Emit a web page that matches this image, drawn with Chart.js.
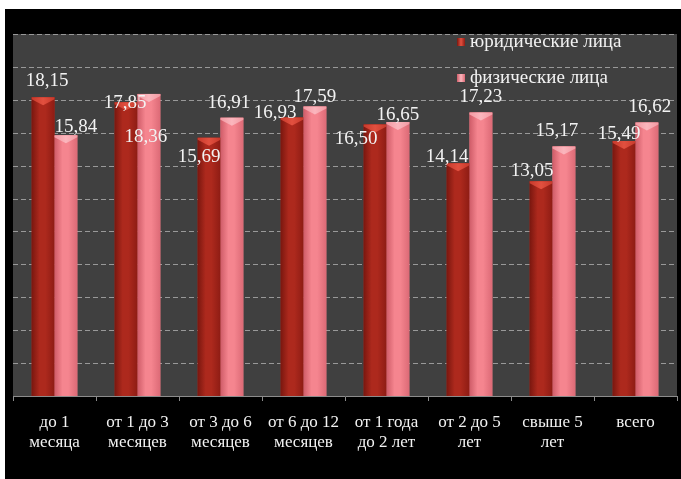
<!DOCTYPE html>
<html>
<head>
<meta charset="utf-8">
<script src="https://cdn.jsdelivr.net/npm/chart.js@4.4.1/dist/chart.umd.min.js"></script>
<style>
  html, body { margin: 0; padding: 0; background: #fff; }
  #wrap { width: 681px; height: 479px; }
</style>
</head>
<body>
<div id="wrap"><canvas id="chart" width="681" height="479"></canvas></div>
<script>
const categories = [
  ["до 1", "месяца"],
  ["от 1 до 3", "месяцев"],
  ["от 3 до 6", "месяцев"],
  ["от 6 до 12", "месяцев"],
  ["от 1 года", "до 2 лет"],
  ["от 2 до 5", "лет"],
  ["свыше 5", "лет"],
  ["всего"]
];
const seriesNames = ["юридические лица", "физические лица"];
const legalValues = [18.15, 17.85, 15.69, 16.93, 16.50, 14.14, 13.05, 15.49];
const personValues = [15.84, 18.36, 16.91, 17.59, 16.65, 17.23, 15.17, 16.62];
const yMin = 0;
const yMax = 22;
const yStep = 2;

// where each value label sits, relative to the top centre of its bar
const legalLabelShift = [[4, -16], [-1, 1], [-10, 19], [-17, -4], [-19, 15], [-11, -6], [-9, -10], [-5, -7]];
const personLabelShift = [[10, -8], [-3, 43], [-3, -15], [0, -10], [0, -7], [0, -15], [-7, -15], [3, -16]];

const SERIF = "'Liberation Serif', 'Times New Roman', serif";

const shades = [
  { edge: "#7a170f", mid: "#ad291d", right: "#8e1c14", cap: "#e2503f", capEdge: "#c73a2c" },
  { edge: "#cf5c68", mid: "#f5858f", right: "#dc6a76", cap: "#fbb6bd", capEdge: "#f29aa3" }
];

function fmt(v) {
  return v.toFixed(2).replace(".", ",");
}

const backdrop = {
  id: "backdrop",
  beforeDraw(chart) {
    const ctx = chart.ctx;
    const a = chart.chartArea;
    ctx.save();
    ctx.fillStyle = "#ffffff";
    ctx.fillRect(0, 0, chart.width, chart.height);
    ctx.fillStyle = "#000000";
    ctx.fillRect(5, 9, chart.width - 5, chart.height - 9);
    ctx.fillStyle = "#404040";
    ctx.fillRect(a.left, a.top, a.right - a.left, a.bottom - a.top);
    ctx.restore();
  },
  beforeDatasetsDraw(chart) {
    // dashed horizontal grid, taken from the y scale ticks
    const ctx = chart.ctx;
    const a = chart.chartArea;
    const y = chart.scales.y;
    ctx.save();
    ctx.strokeStyle = "#999999";
    ctx.lineWidth = 1;
    ctx.setLineDash([5, 3]);
    y.ticks.forEach(t => {
      if (t.value === yMin) return;
      const py = Math.round(y.getPixelForValue(t.value)) + 0.5;
      ctx.beginPath();
      ctx.moveTo(a.left, py);
      ctx.lineTo(a.right, py);
      ctx.stroke();
    });
    ctx.restore();
  }
};

const barLook = {
  id: "barLook",
  afterDatasetsDraw(chart) {
    const ctx = chart.ctx;
    ctx.save();
    chart.data.datasets.forEach((ds, di) => {
      const meta = chart.getDatasetMeta(di);
      const s = shades[di];
      meta.data.forEach(bar => {
        const p = bar.getProps(["x", "y", "base", "width"], true);
        const left = p.x - p.width / 2;
        const right = p.x + p.width / 2;
        const g = ctx.createLinearGradient(left, 0, right, 0);
        g.addColorStop(0, s.edge);
        g.addColorStop(0.35, s.mid);
        g.addColorStop(0.6, s.mid);
        g.addColorStop(1, s.right);
        ctx.fillStyle = g;
        ctx.fillRect(left, p.y, p.width, p.base - p.y);
        // top cap
        const cg = ctx.createLinearGradient(left, 0, right, 0);
        cg.addColorStop(0, s.capEdge);
        cg.addColorStop(0.5, s.cap);
        cg.addColorStop(1, s.capEdge);
        ctx.fillStyle = cg;
        ctx.beginPath();
        ctx.moveTo(left, p.y);
        ctx.lineTo(right, p.y);
        ctx.lineTo(right, p.y + 2);
        ctx.lineTo(p.x, p.y + 8);
        ctx.lineTo(left, p.y + 2);
        ctx.closePath();
        ctx.fill();
      });
    });

    ctx.font = "19px " + SERIF;
    ctx.fillStyle = "#f2f2f2";
    ctx.textAlign = "center";
    ctx.textBaseline = "middle";
    const shifts = [legalLabelShift, personLabelShift];
    chart.data.datasets.forEach((ds, di) => {
      const meta = chart.getDatasetMeta(di);
      meta.data.forEach((bar, i) => {
        const p = bar.getProps(["x", "y"], true);
        const sh = shifts[di][i];
        ctx.fillText(fmt(ds.data[i]), p.x + sh[0], p.y + sh[1]);
      });
    });
    ctx.restore();
  }
};

const sideLegend = {
  id: "sideLegend",
  afterDraw(chart) {
    const ctx = chart.ctx;
    const a = chart.chartArea;
    const x = a.right - 220;
    ctx.save();
    ctx.font = "19px " + SERIF;
    ctx.textBaseline = "middle";
    ctx.textAlign = "left";
    chart.data.datasets.forEach((ds, di) => {
      const y = a.top + 8 + di * 36;
      const s = shades[di];
      const g = ctx.createLinearGradient(x, 0, x + 8, 0);
      g.addColorStop(0, s.edge);
      g.addColorStop(0.5, s.cap);
      g.addColorStop(1, s.right);
      ctx.fillStyle = g;
      ctx.fillRect(x, y - 4, 8, 8);
      ctx.fillStyle = "#f2f2f2";
      ctx.fillText(ds.label, x + 13, y);
    });
    ctx.restore();
  }
};

new Chart(document.getElementById("chart"), {
  type: "bar",
  data: {
    labels: categories,
    datasets: [
      { label: seriesNames[0], data: legalValues, backgroundColor: "#ad291d" },
      { label: seriesNames[1], data: personValues, backgroundColor: "#f5858f" }
    ]
  },
  options: {
    responsive: false,
    animation: false,
    devicePixelRatio: 1,
    categoryPercentage: 0.55,
    barPercentage: 1,
    layout: { padding: { left: 13, right: 4, top: 34, bottom: 14 } },
    plugins: {
      legend: { display: false },
      tooltip: { enabled: false }
    },
    scales: {
      x: {
        grid: {
          display: true,
          drawOnChartArea: false,
          drawTicks: true,
          tickLength: 5,
          tickColor: "#8c8c8c",
          offset: true
        },
        border: { display: true, color: "#8c8c8c", width: 1 },
        ticks: {
          color: "#f2f2f2",
          font: { family: SERIF, size: 17, lineHeight: "20px" },
          padding: 12,
          maxRotation: 0,
          autoSkip: false
        }
      },
      y: {
        min: yMin,
        max: yMax,
        ticks: { display: false, stepSize: yStep },
        grid: { display: false, drawTicks: false },
        border: { display: false }
      }
    }
  },
  plugins: [backdrop, barLook, sideLegend]
});
</script>
</body>
</html>
